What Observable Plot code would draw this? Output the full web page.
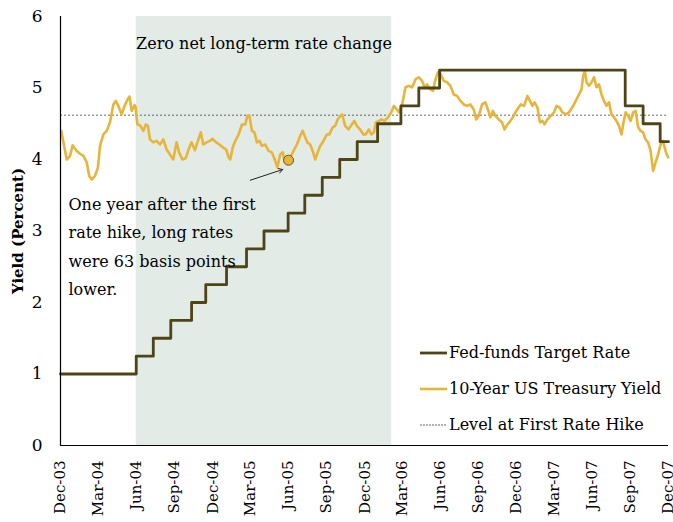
<!DOCTYPE html>
<html><head><meta charset="utf-8">
<script src="https://cdn.jsdelivr.net/npm/d3@7"></script>
<script src="https://cdn.jsdelivr.net/npm/@observablehq/plot@0.6"></script>
<style>
body{margin:0;background:#fff;}
#chart{width:673px;height:522px;}
</style></head><body><div id="chart"></div>
<script>
// ---------- data ----------
const yieldDates = [
"2004-01-02","2004-01-07","2004-01-15","2004-01-23","2004-01-29","2004-02-08","2004-02-16","2004-02-24",
"2004-03-03","2004-03-09","2004-03-15","2004-03-23","2004-03-30","2004-04-04","2004-04-12","2004-04-20",
"2004-04-28","2004-05-06","2004-05-12","2004-05-18","2004-05-26","2004-06-02","2004-06-09","2004-06-14",
"2004-06-19","2004-06-26","2004-06-29","2004-06-30","2004-07-03","2004-07-09","2004-07-17","2004-07-23","2004-07-28",
"2004-08-02","2004-08-10","2004-08-18","2004-08-26","2004-09-03","2004-09-11","2004-09-19","2004-09-27",
"2004-10-05","2004-10-11","2004-10-19","2004-10-27","2004-11-04","2004-11-10","2004-11-18","2004-11-24",
"2004-12-02","2004-12-08","2004-12-16","2004-12-24","2004-12-30",
"2005-01-08","2005-01-16","2005-01-24","2005-02-01","2005-02-07","2005-02-11","2005-02-17","2005-02-23",
"2005-03-03","2005-03-11","2005-03-19","2005-03-24","2005-03-29","2005-04-04","2005-04-10","2005-04-16",
"2005-04-22","2005-04-28","2005-05-06","2005-05-14","2005-05-22","2005-05-30","2005-06-04","2005-06-11",
"2005-06-17","2005-06-23","2005-06-29","2005-07-05","2005-07-13","2005-07-21","2005-07-29","2005-08-04",
"2005-08-10","2005-08-15","2005-08-22","2005-08-28","2005-09-03","2005-09-09","2005-09-15","2005-09-23",
"2005-10-01","2005-10-07","2005-10-15","2005-10-21","2005-10-27","2005-11-02","2005-11-07","2005-11-14",
"2005-11-22","2005-11-30","2005-12-06","2005-12-12","2005-12-20","2005-12-28",
"2006-01-02","2006-01-10","2006-01-16","2006-01-22","2006-01-27","2006-02-03","2006-02-09","2006-02-17",
"2006-02-25","2006-03-05","2006-03-11","2006-03-17","2006-03-23","2006-03-31","2006-04-08","2006-04-16",
"2006-04-24","2006-05-02","2006-05-10","2006-05-18","2006-05-24","2006-05-30","2006-06-07","2006-06-13",
"2006-06-19","2006-06-25","2006-07-01","2006-07-09","2006-07-17","2006-07-25","2006-08-02","2006-08-10",
"2006-08-18","2006-08-26","2006-09-03","2006-09-11","2006-09-19","2006-09-25","2006-10-01","2006-10-09",
"2006-10-17","2006-10-23","2006-10-29","2006-11-04","2006-11-10","2006-11-18","2006-11-26","2006-12-02",
"2006-12-09","2006-12-16","2006-12-24","2006-12-30",
"2007-01-10","2007-01-18","2007-01-26","2007-02-01","2007-02-07","2007-02-12","2007-02-19","2007-02-25",
"2007-03-03","2007-03-08","2007-03-15","2007-03-23","2007-03-31","2007-04-06","2007-04-13","2007-04-20",
"2007-04-28","2007-05-06","2007-05-14","2007-05-22","2007-05-30","2007-06-05","2007-06-09","2007-06-13",
"2007-06-17","2007-06-23","2007-06-29","2007-07-05","2007-07-11","2007-07-17","2007-07-23","2007-07-29",
"2007-08-04","2007-08-10","2007-08-16","2007-08-22","2007-08-28","2007-09-03","2007-09-09","2007-09-14",
"2007-09-19","2007-09-25","2007-10-01","2007-10-07","2007-10-13","2007-10-19","2007-10-25","2007-10-31",
"2007-11-06","2007-11-12","2007-11-18","2007-11-24","2007-11-30","2007-12-06","2007-12-12","2007-12-18",
"2007-12-24","2007-12-30"
];
const yieldValues = [
4.40,4.24,4.00,4.05,4.20,4.12,4.08,4.05,
3.96,3.77,3.72,3.77,3.89,4.19,4.35,4.40,
4.52,4.77,4.82,4.75,4.63,4.75,4.84,4.88,
4.68,4.76,4.73,4.62,4.49,4.48,4.40,4.49,4.47,
4.28,4.24,4.26,4.21,4.28,4.14,4.07,4.00,
4.24,4.10,4.00,4.02,4.16,4.24,4.13,4.24,
4.38,4.21,4.24,4.26,4.29,
4.24,4.21,4.17,4.14,4.03,4.00,4.17,4.26,
4.35,4.49,4.49,4.61,4.61,4.40,4.38,4.24,
4.26,4.19,4.21,4.12,4.10,3.98,3.89,4.07,
4.10,3.96,3.94,4.03,4.12,4.21,4.33,4.40,
4.31,4.24,4.21,4.12,4.00,4.10,4.19,4.26,
4.35,4.35,4.45,4.47,4.56,4.61,4.63,4.47,
4.42,4.49,4.54,4.47,4.42,4.35,
4.35,4.42,4.35,4.38,4.52,4.54,4.56,4.54,
4.59,4.66,4.75,4.71,4.66,4.77,5.01,5.03,
5.01,5.12,5.15,5.10,5.01,5.05,4.98,4.96,
5.12,5.22,5.20,5.10,5.08,5.03,4.91,4.89,
4.82,4.77,4.75,4.77,4.70,4.56,4.61,4.77,
4.80,4.70,4.59,4.68,4.61,4.56,4.52,4.42,
4.49,4.54,4.61,4.68,
4.77,4.75,4.89,4.82,4.75,4.80,4.73,4.52,
4.54,4.49,4.56,4.61,4.66,4.75,4.73,4.66,
4.63,4.66,4.73,4.82,4.91,4.98,5.17,5.24,
5.08,5.03,5.08,5.15,5.01,5.05,4.91,4.82,
4.75,4.80,4.63,4.59,4.54,4.47,4.35,4.52,
4.66,4.61,4.54,4.66,4.68,4.45,4.40,4.38,
4.28,4.24,4.12,3.84,3.96,4.07,4.21,4.26,
4.12,4.03
];
const fedDates = ["2003-12-31","2004-06-30","2004-08-10","2004-09-21","2004-11-10","2004-12-14","2005-02-02",
"2005-03-22","2005-05-03","2005-06-30","2005-08-09","2005-09-20","2005-11-01","2005-12-13","2006-01-31",
"2006-03-28","2006-05-10","2006-06-29","2007-09-18","2007-10-31","2007-12-11","2007-12-31"];
const fedRates = [1.00,1.25,1.50,1.75,2.00,2.25,2.50,2.75,3.00,3.25,3.50,3.75,4.00,4.25,4.50,4.75,5.00,5.25,4.75,4.50,4.25,4.25];
const firstHikeLevel = 4.62;
const shadeSpan = ["2004-06-30","2006-03-06"];
const xDomain = ["2003-12-31","2007-12-31"];
const xTickDates = ["2003-12-31","2004-03-31","2004-06-30","2004-09-30","2004-12-31","2005-03-31","2005-06-30",
"2005-09-30","2005-12-31","2006-03-31","2006-06-30","2006-09-30","2006-12-31","2007-03-31","2007-06-30",
"2007-09-30","2007-12-31"];
const xTickLabels = ["Dec-03","Mar-04","Jun-04","Sep-04","Dec-04","Mar-05","Jun-05","Sep-05","Dec-05",
"Mar-06","Jun-06","Sep-06","Dec-06","Mar-07","Jun-07","Sep-07","Dec-07"];
const yTicks = [0,1,2,3,4,5,6];
const markerDate = "2005-07-01", markerValue = 3.99;
const arrowFrom = ["2005-03-31", 3.71], arrowTo = ["2005-06-17", 3.86];
const shadeTitle = "Zero net long-term rate change";
const noteText = "One year after the first\nrate hike, long rates\nwere 63 basis points\nlower.";
const yTitle = "Yield (Percent)";
const legendLabels = ["Fed-funds Target Rate","10-Year US Treasury Yield","Level at First Rate Hike"];

// ---------- chart ----------
const parse = d3.utcParse("%Y-%m-%d");
const yieldData = yieldDates.map((d,i)=>({date:parse(d), value:yieldValues[i]}));
const fedData = fedDates.map((d,i)=>({date:parse(d), value:fedRates[i]}));
const labelMap = new Map(xTickDates.map((d,i)=>[+parse(d), xTickLabels[i]]));
const s0 = parse(shadeSpan[0]), s1 = parse(shadeSpan[1]);
const serif = "DejaVu Serif";
const gold = "#e8b43a", brown = "#4f4416";

const chart = Plot.plot({
  width:673, height:522,
  marginLeft:60, marginRight:5, marginTop:16, marginBottom:77,
  style:{fontFamily:serif, fontSize:"16px", color:"#000", background:"#fff", overflow:"visible"},
  x:{type:"utc", domain:xDomain.map(parse)},
  y:{domain:[0,6]},
  marks:[
    Plot.rect([{x1:s0, x2:s1}], {x1:"x1", x2:"x2", y1:0, y2:6, fill:"#e2ebe6"}),
    Plot.ruleY([firstHikeLevel], {stroke:"#444", strokeWidth:0.8, strokeDasharray:"2,2"}),
    Plot.line(yieldData, {x:"date", y:"value", stroke:gold, strokeWidth:2.6, strokeLinejoin:"round"}),
    Plot.line(fedData, {x:"date", y:"value", curve:"step-after", stroke:brown, strokeWidth:2.8}),
    Plot.ruleX([parse(xDomain[0])], {stroke:"#000", strokeWidth:1.2}),
    Plot.ruleY([0], {stroke:"#000", strokeWidth:1.2}),
    Plot.axisY({ticks:yTicks, tickFormat:d=>String(d), tickSize:0, tickPadding:18, fontSize:17, label:null}),
    Plot.axisX({ticks:xTickDates.map(parse), tickFormat:d=>labelMap.get(+d), tickRotate:-90, tickSize:0, tickPadding:15, fontSize:15, label:null}),
    Plot.arrow([{x1:parse(arrowFrom[0]), y1:arrowFrom[1], x2:parse(arrowTo[0]), y2:arrowTo[1]}],
      {x1:"x1", y1:"y1", x2:"x2", y2:"y2", stroke:"#222", strokeWidth:1, headLength:7}),
    Plot.dot([{date:parse(markerDate), value:markerValue}], {x:"date", y:"value", r:5, fill:gold, stroke:"#6a5520", strokeWidth:1}),
    Plot.text([shadeTitle], {x:()=>new Date((+s0 + +s1)/2), frameAnchor:"top", dy:21, fontSize:16, fill:"#000"}),
    Plot.text([noteText], {frameAnchor:"top-left", dx:8, dy:227, lineAnchor:"middle", textAnchor:"start", lineHeight:1.77, fontSize:16, fill:"#000"})
  ]
});
document.getElementById("chart").append(chart);

// ---------- y title & legend ----------
const svg = d3.select(chart);
svg.append("text").attr("transform","translate(18,231) rotate(-90)")
  .attr("text-anchor","middle").attr("dy","0.35em")
  .attr("font-family",serif).attr("font-weight","bold").attr("font-size",15).attr("fill","#000").text(yTitle);
const legendStyles = [
  {stroke:brown, width:2.8, dash:null},
  {stroke:gold, width:2.6, dash:null},
  {stroke:"#444", width:0.8, dash:"2,1"}
];
const lg = svg.append("g").attr("text-anchor","start");
legendLabels.forEach((lab,i)=>{
  const y = 353 + i*36;
  const st = legendStyles[i];
  lg.append("line").attr("x1",420).attr("x2",447).attr("y1",y).attr("y2",y)
    .attr("stroke",st.stroke).attr("stroke-width",st.width).attr("stroke-dasharray",st.dash);
  lg.append("text").attr("x",449).attr("y",y).attr("dy","0.32em").attr("text-anchor","start")
    .attr("font-family",serif).attr("font-size",16).attr("fill","#000").text(lab);
});
</script></body></html>
